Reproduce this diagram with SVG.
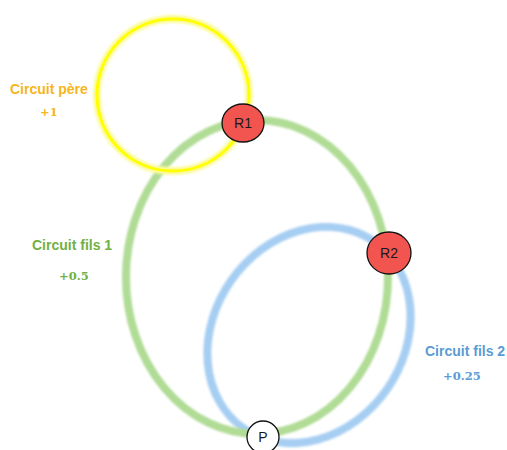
<svg xmlns="http://www.w3.org/2000/svg" width="507" height="450" viewBox="0 0 507 450">
  <defs>
    <filter id="soft" x="-20%" y="-20%" width="140%" height="140%">
      <feGaussianBlur stdDeviation="1.2"/>
    </filter>
    <filter id="glow" x="-20%" y="-20%" width="140%" height="140%">
      <feGaussianBlur in="SourceGraphic" stdDeviation="0.6"/>
    </filter>
  </defs>
  <style>
    .title { font-family: "Liberation Sans", Arial, sans-serif; font-weight: bold; font-size: 14px; }
    .gain { font-family: "DejaVu Serif", "Liberation Serif", serif; font-weight: bold; font-size: 11.5px; }
    .node { fill: #f25450; stroke: #111; stroke-width: 1.3; }
    .pnode { fill: #ffffff; stroke: #111; stroke-width: 1.3; }
    .nlabel { font-family: "Liberation Sans", Arial, sans-serif; font-size: 14px; fill: #1a1a1a; text-anchor: middle; }
  </style>

  <rect width="507" height="450" fill="#ffffff"/>

  <!-- circuit loops -->
  <g id="connectors">
    <ellipse id="loop-fils2" cx="309" cy="335" rx="95" ry="114" transform="rotate(35 309 335)" fill="none" stroke="#a6cef2" stroke-width="8" filter="url(#soft)"/>
    <ellipse id="loop-fils1" cx="257" cy="277" rx="131" ry="157" fill="none" stroke="#b0dc95" stroke-width="8" filter="url(#soft)"/>
    <!-- père loop: pale halo under a thin bright ring -->
    <circle cx="173" cy="95" r="76" fill="none" stroke="#fbfb9a" stroke-width="8" filter="url(#soft)"/>
    <circle id="loop-pere" cx="173" cy="95" r="76" fill="none" stroke="#ffff00" stroke-width="3" filter="url(#glow)"/>
  </g>

  <!-- labels -->
  <g id="label-pere">
    <text class="title" x="10" y="94" fill="#f7b51c">Circuit père</text>
    <text class="gain" x="40" y="116" fill="#f7b51c">+1</text>
  </g>
  <g id="label-fils1">
    <text class="title" x="32" y="250" fill="#72b043">Circuit fils 1</text>
    <text class="gain" x="59" y="280" fill="#72b043">+0.5</text>
  </g>
  <g id="label-fils2">
    <text class="title" x="425" y="356" fill="#5b9bd5">Circuit fils 2</text>
    <text class="gain" x="443" y="380" fill="#5b9bd5">+0.25</text>
  </g>

  <!-- nodes -->
  <g id="R1">
    <ellipse class="node" cx="243" cy="123" rx="21" ry="19"/>
    <text class="nlabel" x="243" y="128">R1</text>
  </g>
  <g id="R2">
    <ellipse class="node" cx="389" cy="253" rx="22" ry="21"/>
    <text class="nlabel" x="389" y="258">R2</text>
  </g>
  <g id="P">
    <circle class="pnode" cx="263" cy="437" r="16"/>
    <text class="nlabel" x="263" y="442">P</text>
  </g>
</svg>
